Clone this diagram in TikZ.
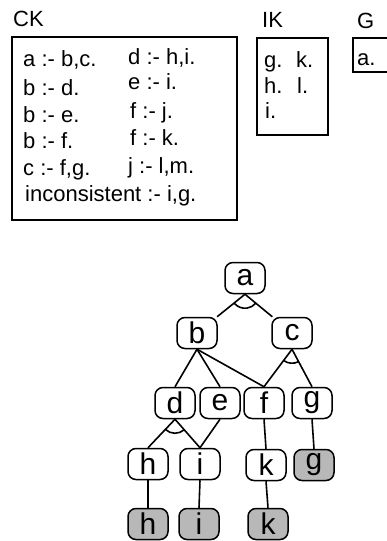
\documentclass[tikz,border=0pt]{standalone}
\usepackage{fontspec}
\setmainfont{Liberation Sans}
\usetikzlibrary{calc}

\tikzset{
  goal/.style={draw, line width=1.5pt, rounded corners=8pt, minimum width=40pt,
    minimum height=31pt, inner sep=0pt, font=\fontsize{30}{30}\selectfont},
  fact/.style={goal, fill=black!28},
  link/.style={line width=1.6pt},
  kbox/.style={draw, line width=1.3pt},
  rule/.style={anchor=base west, inner sep=0pt, font=\fontsize{22}{22}\selectfont},
  title/.style={anchor=base west, inner sep=0pt, font=\fontsize{22}{22}\selectfont}
}

% small arc joining two edges that leave the same goal (conjunction)
\newcommand{\andarc}[3]{%
  \draw[link] let \p1=($(#2)-(#1)$), \p2=($(#3)-(#1)$),
    \n1={atan2(\y1,\x1)}, \n2={atan2(\y2,\x2)} in
    ($(#1)+(\n1:14pt)$) arc[start angle=\n1, end angle=\n2, radius=14pt];}

\begin{document}
\begin{tikzpicture}[x=1pt, y=-1pt]
        \useasboundingbox (0,0) rectangle (387,541);

        % Knowledge bases
        \node[title] (cklabel) at (13,26) {CK};
        \draw[kbox] (12,37) rectangle (237,220);
        \node[rule] (r1) at (23,66) {a :- b,c.};
        \node[rule] (r2) at (23,95) {b :- d.};
        \node[rule] (r3) at (23,122) {b :- e.};
        \node[rule] (r4) at (23,148) {b :- f.};
        \node[rule] (r5) at (23,175) {c :- f,g.};
        \node[rule] (r6) at (25,201) {inconsistent :- i,g.};
        \node[rule] (r7) at (128,64) {d :- h,i.};
        \node[rule] (r8) at (128,89) {e :- i.};
        \node[rule] (r9) at (130,118) {f :- j.};
        \node[rule] (r10) at (130,145) {f :- k.};
        \node[rule] (r11) at (128,173) {j :- l,m.};

        \node[title] (iklabel) at (262,27) {IK};
        \draw[kbox] (257,38) rectangle (328,135);
        \node[rule] (ig) at (264,67) {g.};
        \node[rule] (ih) at (264,93) {h.};
        \node[rule] (ii) at (265,118) {i.};
        \node[rule] (ik) at (296,67) {k.};
        \node[rule] (il) at (297,93) {l.};

        \node[title] (glabel) at (357,28) {G};
        \draw[kbox] (353,38) rectangle (392,72);
        \node[rule] (ga) at (357,65) {a.};

        % Derivation tree
        \node[goal] (a) at (245,278) {a};
        \node[goal] (b) at (197,333) {b};
        \node[goal] (c) at (292,333) {c};
        \node[goal] (d) at (175,403) {d};
        \node[goal] (e) at (220,403) {e};
        \node[goal] (f) at (264,403) {f};
        \node[goal] (g) at (312,403) {g};
        \node[goal] (h) at (148,464) {h};
        \node[goal] (i) at (200,464) {i};
        \node[goal] (k) at (266,465) {k};
        \node[fact] (g2) at (314,465) {g};
        \node[fact] (h2) at (148,524) {h};
        \node[fact] (i2) at (199,524) {i};
        \node[fact] (k2) at (268,524) {k};

        \draw[link] (a.south) -- (b);
        \draw[link] (a.south) -- (c);
        \draw[link] (b.south) -- (d.north);
        \draw[link] (b.south) -- (e.north);
        \draw[link] (b.south) -- (f.north);
        \draw[link] (c.south) -- (f.north);
        \draw[link] (c.south) -- (g.north);
        \draw[link] (d.south) -- (h.north);
        \draw[link] (d.south) -- (i.north);
        \draw[link] (e.south) -- (i.north);
        \draw[link] (f.south) -- (k.north);
        \draw[link] (g.south) -- (g2.north);
        \draw[link] (h.south) -- (h2.north);
        \draw[link] (i.south) -- (i2.north);
        \draw[link] (k.south) -- (k2.north);

        \andarc{a.south}{b}{c}
        \andarc{c.south}{f.north}{g.north}
        \andarc{d.south}{h.north}{i.north}

\end{tikzpicture}
\end{document}
